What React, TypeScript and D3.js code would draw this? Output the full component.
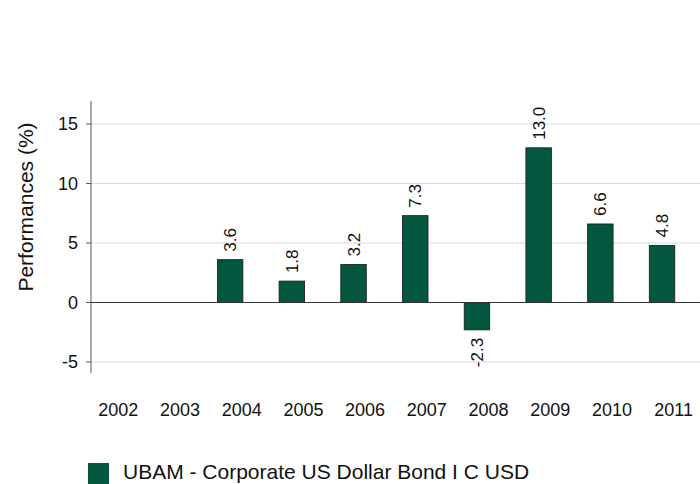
import React from "react";
import * as d3 from "d3";

const years = ["2002", "2003", "2004", "2005", "2006", "2007", "2008", "2009", "2010", "2011"];
const values: (number | null)[] = [null, null, 3.6, 1.8, 3.2, 7.3, -2.3, 13.0, 6.6, 4.8];
const yTicks = [-5, 0, 5, 10, 15];
const seriesName = "UBAM - Corporate US Dollar Bond I C USD";
const yTitle = "Performances (%)";

const W = 700;
const H = 484;
const FONT = "'Liberation Sans', Arial, Helvetica, sans-serif";
const GREEN = "#03573F";

export default function App() {
  const axisX = 91;
  const x = d3.scaleBand<string>().domain(years).range([axisX, axisX + 617]).padding(0);
  const y = d3.scaleLinear().domain([-5, 15]).range([362, 124]);
  const barOffset = 3;
  const barW = 25.5;
  const labelOffset = 27.3;

  return (
    <svg
      width={W}
      height={H}
      style={{ position: "absolute", left: 0, top: 0, background: "#fff" }}
      fontFamily={FONT}
    >
      {yTicks.filter((t) => t !== 0).map((t) => (
        <line key={"g" + t} x1={axisX} x2={W} y1={y(t)} y2={y(t)} stroke="#d9d9d9" strokeWidth={1} />
      ))}
      {years.map((yr, i) => {
        const v = values[i];
        if (v === null) return null;
        const x0 = (x(yr) as number) + barOffset;
        const top = y(Math.max(0, v));
        const bot = y(Math.min(0, v));
        return (
          <rect key={"b" + yr} x={x0} y={top} width={barW} height={bot - top} fill={GREEN} stroke="#1a1a1a" strokeWidth={0.8} />
        );
      })}
      <line x1={axisX} x2={W} y1={y(0)} y2={y(0)} stroke="#333" strokeWidth={1} />
      <line x1={axisX} x2={axisX} y1={101} y2={373} stroke="#555" strokeWidth={1} />
      {yTicks.map((t) => (
        <g key={"t" + t}>
          <line x1={axisX - 5} x2={axisX} y1={y(t)} y2={y(t)} stroke="#555" strokeWidth={1} />
          <text x={axisX - 13} y={y(t)} dy="0.36em" textAnchor="end" fontSize={18} fill="#111">
            {t}
          </text>
        </g>
      ))}
      {years.map((yr, i) => {
        const v = values[i];
        if (v === null) return null;
        const cx = (x(yr) as number) + barOffset + barW / 2;
        const py = v >= 0 ? y(v) - 8 : y(v) + 8;
        return (
          <text
            key={"v" + yr}
            transform={`translate(${cx},${py}) rotate(-90)`}
            dy="0.36em"
            textAnchor={v >= 0 ? "start" : "end"}
            fontSize={17}
            fill="#111"
          >
            {v.toFixed(1)}
          </text>
        );
      })}
      {years.map((yr) => (
        <text key={"x" + yr} x={(x(yr) as number) + labelOffset} y={415.7} textAnchor="middle" fontSize={18} fill="#111">
          {yr}
        </text>
      ))}
      <text transform={`translate(33,207) rotate(-90)`} textAnchor="middle" fontSize={21} fill="#111">
        {yTitle}
      </text>
      <rect x={88} y={463} width={21} height={30} fill={GREEN} />
      <text x={123} y={479.3} fontSize={21} fill="#111">
        {seriesName}
      </text>
    </svg>
  );
}
